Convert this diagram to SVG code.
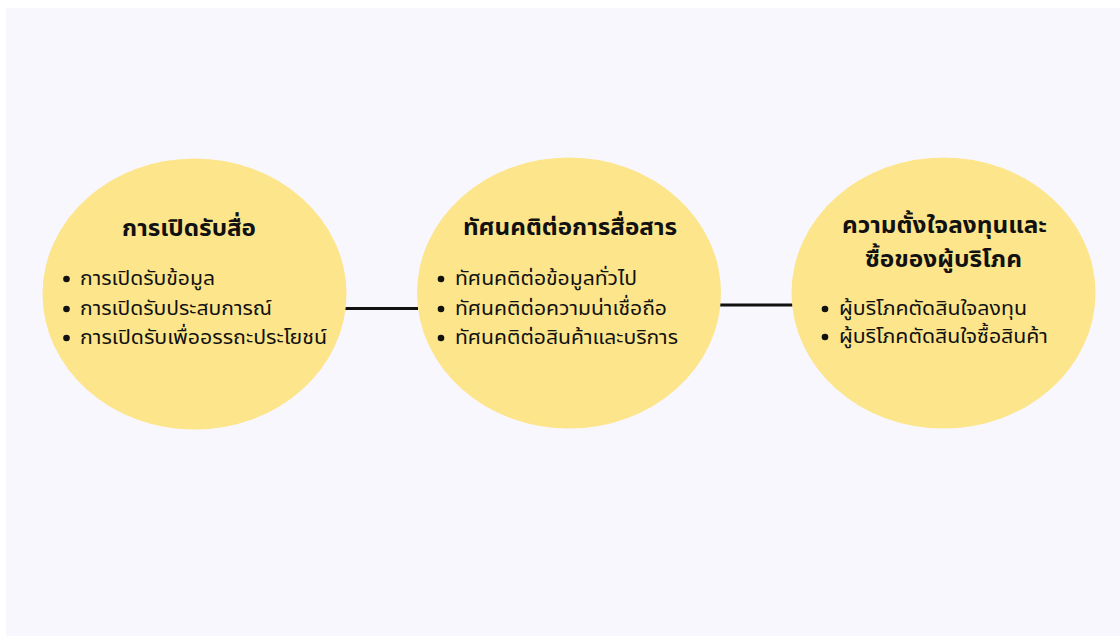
<svg xmlns="http://www.w3.org/2000/svg" width="1120" height="636" viewBox="0 0 1120 636">
<style>
.bg{fill:#f8f7fe}
.node{fill:#fce58b}
.conn{stroke:#111;stroke-width:3;stroke-linecap:butt;fill:none}
.title{font-family:"Noto Sans Thai","Noto Sans","DejaVu Sans",sans-serif;font-size:23px;font-weight:bold;fill:#111}
.item{font-family:"Noto Sans Thai","Noto Sans","DejaVu Sans",sans-serif;font-size:20px;fill:#111}
.dot{fill:#111}
</style>
<rect x="0" y="0" width="1120" height="636" fill="#ffffff"/>
<rect class="bg" x="6" y="8" width="1114" height="628"/>
<g id="connectors">
<line class="conn" x1="345" y1="308.5" x2="418" y2="308.5"/>
<line class="conn" x1="720" y1="305" x2="793" y2="305"/>
</g>
<g id="node1">
<ellipse class="node" cx="194.5" cy="294" rx="152" ry="135.5"/>
<text class="title" x="122" y="236" textLength="134" lengthAdjust="spacingAndGlyphs">การเปิดรับสื่อ</text>
<circle class="dot" cx="66.5" cy="279" r="3.3"/>
<text class="item" x="80" y="285" textLength="135" lengthAdjust="spacingAndGlyphs">การเปิดรับข้อมูล</text>
<circle class="dot" cx="66.5" cy="309" r="3.3"/>
<text class="item" x="80" y="315" textLength="192" lengthAdjust="spacingAndGlyphs">การเปิดรับประสบการณ์</text>
<circle class="dot" cx="66.5" cy="338" r="3.3"/>
<text class="item" x="80" y="344" textLength="247" lengthAdjust="spacingAndGlyphs">การเปิดรับเพื่ออรรถะประโยชน์</text>
</g>
<g id="node2">
<ellipse class="node" cx="569" cy="293" rx="152" ry="135.5"/>
<text class="title" x="463" y="235" textLength="214" lengthAdjust="spacingAndGlyphs">ทัศนคติต่อการสื่อสาร</text>
<circle class="dot" cx="441" cy="279" r="3.3"/>
<text class="item" x="455" y="285" textLength="182" lengthAdjust="spacingAndGlyphs">ทัศนคติต่อข้อมูลทั่วไป</text>
<circle class="dot" cx="441" cy="309" r="3.3"/>
<text class="item" x="455" y="315" textLength="212" lengthAdjust="spacingAndGlyphs">ทัศนคติต่อความน่าเชื่อถือ</text>
<circle class="dot" cx="441" cy="338" r="3.3"/>
<text class="item" x="455" y="344" textLength="223" lengthAdjust="spacingAndGlyphs">ทัศนคติต่อสินค้าและบริการ</text>
</g>
<g id="node3">
<ellipse class="node" cx="943.5" cy="293" rx="152" ry="135.5"/>
<text class="title" x="842" y="233" textLength="205" lengthAdjust="spacingAndGlyphs">ความตั้งใจลงทุนและ</text>
<text class="title" x="865" y="267" textLength="157" lengthAdjust="spacingAndGlyphs">ซื้อของผู้บริโภค</text>
<circle class="dot" cx="825" cy="309" r="3.3"/>
<text class="item" x="839" y="315" textLength="188" lengthAdjust="spacingAndGlyphs">ผู้บริโภคตัดสินใจลงทุน</text>
<circle class="dot" cx="825" cy="337" r="3.3"/>
<text class="item" x="839" y="343" textLength="209" lengthAdjust="spacingAndGlyphs">ผู้บริโภคตัดสินใจซื้อสินค้า</text>
</g>
</svg>
